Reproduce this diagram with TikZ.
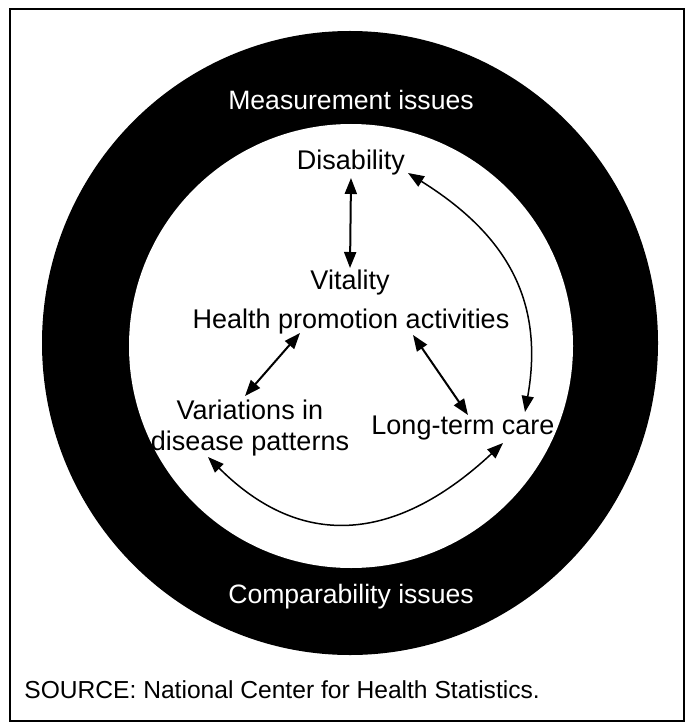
\documentclass[tikz,border=0pt]{standalone}
\usepackage{fontspec}
\setmainfont{Liberation Sans}
\usepackage{tikz}
\usetikzlibrary{arrows.meta,positioning,calc}
\tikzset{
  ringlbl/.style={font=\fontsize{13.3}{15}\selectfont,text=white,inner sep=1pt},
  topic/.style={font=\fontsize{13.5}{15.5}\selectfont,align=center,inner sep=1pt},
  arr/.style={{Triangle[length=8pt,width=6pt]}-{Triangle[length=8pt,width=6pt]},line width=1pt},
  carr/.style={{Triangle[length=8pt,width=6pt]}-{Triangle[length=8pt,width=6pt]},line width=0.75pt},
}

\begin{document}
\begin{tikzpicture}[x=0.5pt,y=-0.5pt]
  \useasboundingbox (0,0) rectangle (689,727);
  %% frame and ring
  \draw[line width=0.8pt] (10,9) rectangle (684,721);
  \fill[black] (350,343) ellipse[x radius=308,y radius=312];
  \fill[white] (351,346) circle[radius=222];
  %% ring labels
  \node[ringlbl] (meas) at (351,100) {Measurement issues};
  \node[ringlbl] (comp) at (351,597) {Comparability issues};
  %% inner topics
  \node[topic] (dis) at (351,163) {Disability};
  \node[topic] (vit) at (350,283) {Vitality};
  \node[topic] (hpa) at (351,322) {Health promotion activities};
  \node[topic] (var) at (250,428) {Variations in\\disease patterns};
  \node[topic] (ltc) at (463,428) {Long-term care};
  %% links
  \draw[arr] (dis.south) -- (vit.north);
  \draw[arr] ($(hpa)+(-51,11)$) -- ($(var)+(-5,-32)$);
  \draw[arr] ($(hpa)+(62,13)$) -- ($(ltc)+(5,-13)$);
  \draw[carr] ($(dis)+(57,10)$) to[out=-32,in=80,looseness=1.1] ($(ltc)+(62,-16)$);
  \draw[carr] ($(var)+(-42,29)$) to[out=-45,in=-137,looseness=1.2] ($(ltc)+(40,15)$);
  %% source line
  \node[font=\fontsize{12.3}{14}\selectfont,anchor=west,inner sep=0pt] (src) at (24,690)
    {SOURCE: National Center for Health Statistics.};
\end{tikzpicture}
\end{document}
